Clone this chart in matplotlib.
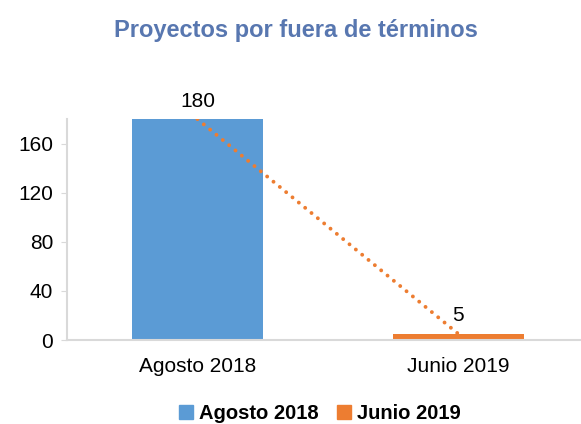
import matplotlib.pyplot as plt
from matplotlib.patches import Patch

# chart data
categories = ['Agosto 2018', 'Junio 2019']
values = [180, 5]
colors = ['#5B9BD5', '#ED7D31']
yticks = [0, 40, 80, 120, 160]

plt.rcParams['font.family'] = ['Liberation Sans', 'DejaVu Sans']

fig = plt.figure(figsize=(5.81, 4.24), dpi=100)
ax = fig.add_axes([0.1153, 0.198, 0.8847, 0.521])

x = list(range(len(categories)))
ax.bar(x, values, width=0.5, color=colors)

# linear trend line across the bars
ax.plot(x, values, linestyle=(0, (0.01, 2.1)), color='#ED7D31', linewidth=2.8,
        dash_capstyle='round')

for xi, v in zip(x, values):
    ax.text(xi, v + 7, str(v), ha='center', va='bottom', fontsize=15)

ax.set_xlim(-0.5, 1.47)
ax.set_ylim(0, 180)
ax.set_yticks(yticks)
ax.set_xticks(x)
ax.set_xticklabels(categories)
ax.tick_params(axis='y', labelsize=15, length=4, color='#D9D9D9', pad=6)
ax.tick_params(axis='x', labelsize=15, length=0, pad=12)

for s in ['top', 'right']:
    ax.spines[s].set_visible(False)
for s in ['left', 'bottom']:
    ax.spines[s].set_color('#D9D9D9')
    ax.spines[s].set_linewidth(1.5)

fig.suptitle('Proyectos por fuera de términos', x=0.51, y=0.955,
             fontsize=17, fontweight='bold', color='#5877B0')

handles = [Patch(color=c, label=l) for c, l in zip(colors, categories)]
fig.legend(handles=handles, loc='lower center', bbox_to_anchor=(0.55, -0.04),
           ncol=2, frameon=False, prop={'size': 14.5, 'weight': 'bold'},
           handlelength=0.7, handleheight=0.7, handletextpad=0.3, columnspacing=0.9)

plt.savefig('out.png', dpi=100)
